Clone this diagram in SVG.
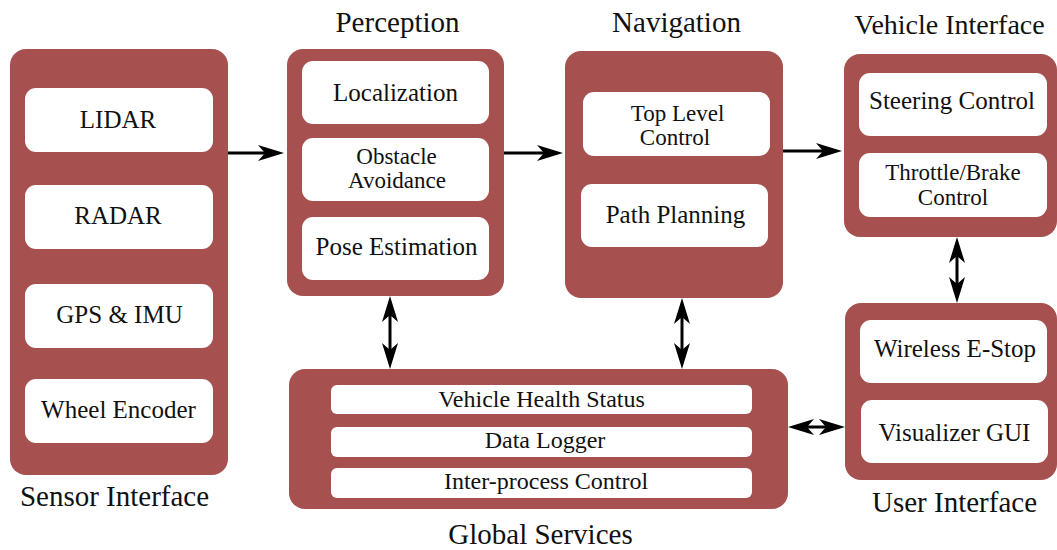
<svg xmlns="http://www.w3.org/2000/svg" width="1057" height="550" viewBox="0 0 1057 550">
<style>
.outer{fill:#a65150}
.inner{fill:#ffffff}
text{fill:#111;text-anchor:middle}
.t{font-size:25px}
.s{font-size:23px}
.b{font-size:24px}
.h{font-size:29px}
.c{fill:none;stroke:#000;stroke-width:3}
</style>
<defs>
<marker id="ah" viewBox="-26 -8 26 16" refX="-10" refY="0" markerWidth="26" markerHeight="16" markerUnits="userSpaceOnUse" orient="auto-start-reverse">
<path d="M0,0 L-26,-8 L-19,0 L-26,8 Z" fill="#000"/>
</marker>
</defs>
<g id="sensor-interface" font-family="'Times New Roman', serif">
<rect class="outer" x="10" y="49" width="218" height="426" rx="16"/>
<rect class="inner" x="25" y="88" width="188" height="64" rx="11"/>
<rect class="inner" x="25" y="185" width="188" height="64" rx="11"/>
<rect class="inner" x="25" y="284" width="188" height="64" rx="11"/>
<rect class="inner" x="25" y="379" width="188" height="64" rx="11"/>
<text class="t" x="118" y="128">LIDAR</text>
<text class="t" x="118" y="224">RADAR</text>
<text class="t" x="119.5" y="323">GPS &amp; IMU</text>
<text class="t" x="118.5" y="418">Wheel Encoder</text>
<text class="h" x="114.5" y="506">Sensor Interface</text>
</g>
<g id="perception" font-family="'Times New Roman', serif">
<rect class="outer" x="287" y="49" width="217" height="247" rx="16"/>
<rect class="inner" x="302" y="61" width="187" height="63" rx="11"/>
<rect class="inner" x="302" y="138" width="187" height="63" rx="11"/>
<rect class="inner" x="302" y="217" width="187" height="63" rx="11"/>
<text class="t" x="395.5" y="101">Localization</text>
<text class="s" x="396.5" y="164">Obstacle</text>
<text class="s" x="397" y="188">Avoidance</text>
<text class="t" x="396.5" y="255">Pose Estimation</text>
<text class="h" x="397.5" y="32">Perception</text>
</g>
<g id="navigation" font-family="'Times New Roman', serif">
<rect class="outer" x="565" y="51" width="218" height="247" rx="16"/>
<rect class="inner" x="583" y="92" width="187" height="64" rx="11"/>
<rect class="inner" x="581" y="184" width="187" height="63" rx="11"/>
<text class="s" x="677.5" y="121">Top Level</text>
<text class="s" x="675" y="145">Control</text>
<text class="t" x="675.5" y="223">Path Planning</text>
<text class="h" x="676.5" y="32">Navigation</text>
</g>
<g id="vehicle-interface" font-family="'Times New Roman', serif">
<rect class="outer" x="844" y="54" width="213" height="183" rx="16"/>
<rect class="inner" x="859" y="73" width="188" height="63" rx="11"/>
<rect class="inner" x="859" y="153" width="188" height="64" rx="11"/>
<text class="t" x="952" y="109">Steering Control</text>
<text class="s" x="953" y="180">Throttle/Brake</text>
<text class="s" x="953" y="205">Control</text>
<text x="949.5" y="34" font-size="28">Vehicle Interface</text>
</g>
<g id="user-interface" font-family="'Times New Roman', serif">
<rect class="outer" x="845" y="303" width="212" height="177" rx="16"/>
<rect class="inner" x="860" y="320" width="187" height="63" rx="11"/>
<rect class="inner" x="861" y="400" width="187" height="63" rx="11"/>
<text class="t" x="955" y="357">Wireless E-Stop</text>
<text class="t" x="954.5" y="441">Visualizer GUI</text>
<text class="h" x="954.5" y="512">User Interface</text>
</g>
<g id="global-services" font-family="'Times New Roman', serif">
<rect class="outer" x="289" y="369" width="499" height="140" rx="16"/>
<rect class="inner" x="331" y="385" width="421" height="29" rx="6"/>
<rect class="inner" x="331" y="427" width="421" height="30" rx="6"/>
<rect class="inner" x="331" y="468" width="421" height="30" rx="6"/>
<text class="b" x="541.5" y="407">Vehicle Health Status</text>
<text class="b" x="545" y="448">Data Logger</text>
<text class="b" x="546" y="489">Inter-process Control</text>
<text class="h" x="540.5" y="544">Global Services</text>
</g>
<g id="connectors">
<line class="c" x1="228" y1="153" x2="274" y2="153" marker-end="url(#ah)"/>
<line class="c" x1="504" y1="153" x2="553" y2="153" marker-end="url(#ah)"/>
<line class="c" x1="783" y1="151" x2="832" y2="151" marker-end="url(#ah)"/>
<line class="c" x1="390" y1="306" x2="390" y2="359" marker-start="url(#ah)" marker-end="url(#ah)"/>
<line class="c" x1="682" y1="308" x2="682" y2="359" marker-start="url(#ah)" marker-end="url(#ah)"/>
<line class="c" x1="957" y1="247" x2="957" y2="293" marker-start="url(#ah)" marker-end="url(#ah)"/>
<line class="c" x1="798" y1="427" x2="835" y2="427" marker-start="url(#ah)" marker-end="url(#ah)"/>
</g>
</svg>
